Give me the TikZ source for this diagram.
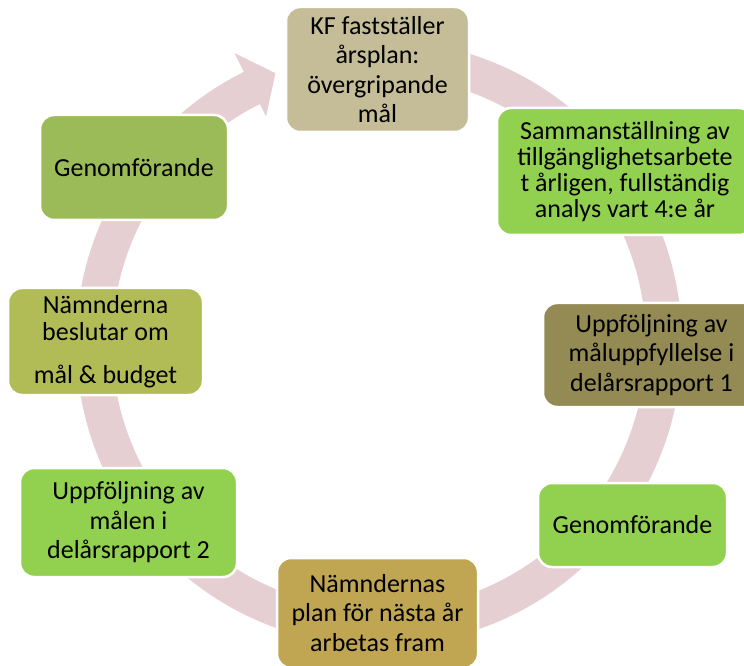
\documentclass[tikz,border=0pt]{standalone}
\usepackage{fontspec}
\setmainfont{Carlito}
\usepackage{xcolor}
\usetikzlibrary{positioning}
\definecolor{ringpink}{RGB}{230,207,210}
\definecolor{kfbeige}{RGB}{196,189,151}
\definecolor{brightgreen}{RGB}{146,208,80}
\definecolor{darkolive}{RGB}{148,138,84}
\definecolor{goldbrown}{RGB}{192,165,83}
\definecolor{olivegreen}{RGB}{178,188,86}
\definecolor{leafgreen}{RGB}{155,187,89}

\begin{document}
\begin{tikzpicture}[
        x=1pt, y=1pt,
        every node/.style={draw=white, line width=2.5pt, rounded corners=14pt, align=center, inner sep=2pt, font=\fontsize{26}{29.5}\selectfont}
    ]
        \useasboundingbox (0,0) rectangle (744,665);

        % Cycle arrow
        \begin{scope}[shift={(379,322)}]
            \fill[ringpink] (95:303) arc[start angle=95, end angle=-243.5, radius=303]
                -- (-243.5:324) -- (-249:289) -- (-243.5:253) -- (-243.5:267)
                arc[start angle=-243.5, end angle=95, radius=267] -- cycle;
        \end{scope}

        % Top
        \node[fill=kfbeige, minimum width=183, minimum height=125] (kf) at (377.5,595.5) {KF fastställer\\årsplan:\\övergripande\\mål};

        % Right side
        \node[fill=brightgreen, minimum width=256, minimum height=127, font=\fontsize{26}{26}\selectfont] (samman) at (625,493.5) {Sammanställning av\\tillgänglighetsarbete\\t årligen, fullständig\\analys vart 4:e år};
        \node[fill=darkolive, minimum width=217, minimum height=104] (uppf1) at (651.5,310) {Uppföljning av\\måluppfyllelse i\\delårsrapport 1};
        \node[fill=brightgreen, minimum width=189, minimum height=84] (genomR) at (632.5,140) {Genomförande};

        % Bottom
        \node[fill=goldbrown, minimum width=201, minimum height=110] (plan) at (377.5,52) {Nämndernas\\plan för nästa år\\arbetas fram};

        % Left side
        \node[fill=brightgreen, minimum width=217, minimum height=109] (uppf2) at (128.5,142.5) {Uppföljning av\\målen i\\delårsrapport 2};
        \node[fill=olivegreen, minimum width=195, minimum height=107, font=\fontsize{26}{27}\selectfont] (beslut) at (105.5,323.5) {Nämnderna\\beslutar om\\[16pt]mål \& budget};
        \node[fill=leafgreen, minimum width=188, minimum height=105] (genomL) at (134,497.5) {Genomförande};
    \end{tikzpicture}
\end{document}
